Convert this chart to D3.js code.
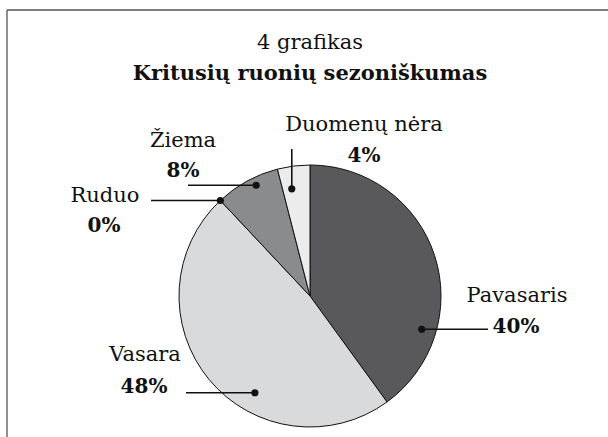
<!DOCTYPE html>
<html>
<head>
<meta charset="utf-8">
<script src="https://cdn.jsdelivr.net/npm/d3@7"></script>
<style>
  html, body { margin: 0; padding: 0; background: #fff; }
  svg { display: block; }
</style>
</head>
<body>
<svg id="chart" width="608" height="437"></svg>
<script>
// ---- data ----
const categories = ["Pavasaris", "Vasara", "Ruduo", "Žiema", "Duomenų nėra"];
const values = [40, 48, 0, 8, 4];
const valueLabels = ["40%", "48%", "0%", "8%", "4%"];
const colors = ["#59595b", "#d9dadc", "#c8c8c8", "#8a8b8d", "#ececed"];
const titleLine1 = "4 grafikas";
const titleLine2 = "Kritusių ruonių sezoniškumas";

// ---- drawing ----
const W = 608, H = 437;
const FONT = "'DejaVu Serif', 'Liberation Serif', serif";
const svg = d3.select("#chart");
const cx = 310, cy = 296, R = 131;

// frame (top and left edges)
svg.append("line").attr("x1", 7).attr("y1", 10).attr("x2", W).attr("y2", 10)
  .attr("stroke", "#555").attr("stroke-width", 1.3);
svg.append("line").attr("x1", 7).attr("y1", 10).attr("x2", 7).attr("y2", H)
  .attr("stroke", "#555").attr("stroke-width", 1.3);

function txt(x, y, s, size, bold, sx) {
  return svg.append("text")
    .attr("transform", `translate(${x},${y}) scale(${sx},1)`)
    .attr("text-anchor", "middle")
    .style("font-family", FONT)
    .attr("font-size", size)
    .attr("font-weight", bold ? "bold" : "normal")
    .attr("fill", "#111")
    .text(s);
}

// titles
txt(cx, 49, titleLine1, 21, false, 1);
txt(cx, 80, titleLine2, 21, true, 1);

// pie
const pie = d3.pie().sort(null).value(d => d.value);
const arcs = pie(categories.map((c, i) => ({ name: c, value: values[i], label: valueLabels[i], color: colors[i] })));
const arc = d3.arc().innerRadius(0).outerRadius(R);

const g = svg.append("g").attr("transform", `translate(${cx},${cy})`);
g.selectAll("path").data(arcs.filter(d => d.data.value > 0)).join("path")
  .attr("d", arc)
  .attr("fill", d => d.data.color)
  .attr("stroke", "#111").attr("stroke-width", 1);

// label layout: anchor dot (angle offset within slice 0..1, radius fraction), leader end, text placement
const layout = {
  "Pavasaris":    { t: 0.74, r: 0.89, line: [488, null], name: [517, 302], val: [516, 333] },
  "Vasara":       { t: 0.38, r: 0.85, line: [186, null], name: [145, 361], val: [144, 393] },
  "Ruduo":        { t: 0.0,  r: 1.0,  line: [151, null], name: [105, 202], val: [104, 232] },
  "Žiema":        { t: 0.6,  r: 0.94, line: [188, null], name: [183, 147], val: [183, 177] },
  "Duomenų nėra": { t: 0.33, r: 0.83, line: [null, 149], name: [364, 131], val: [364, 162] }
};

arcs.forEach(d => {
  const L = layout[d.data.name];
  const a = d.startAngle + (d.endAngle - d.startAngle) * L.t;
  const px = cx + Math.sin(a) * R * L.r;
  const py = cy - Math.cos(a) * R * L.r;
  const x2 = L.line[0] !== null ? L.line[0] : px;
  const y2 = L.line[1] !== null ? L.line[1] : py;
  svg.append("line").attr("x1", px).attr("y1", py).attr("x2", x2).attr("y2", y2)
    .attr("stroke", "#111").attr("stroke-width", 1.6);
  svg.append("circle").attr("cx", px).attr("cy", py).attr("r", 3.6).attr("fill", "#111");
  txt(L.name[0], L.name[1], d.data.name, 21, false, 1);
  txt(L.val[0], L.val[1], d.data.label, 20, true, 1);
});
</script>
</body>
</html>
